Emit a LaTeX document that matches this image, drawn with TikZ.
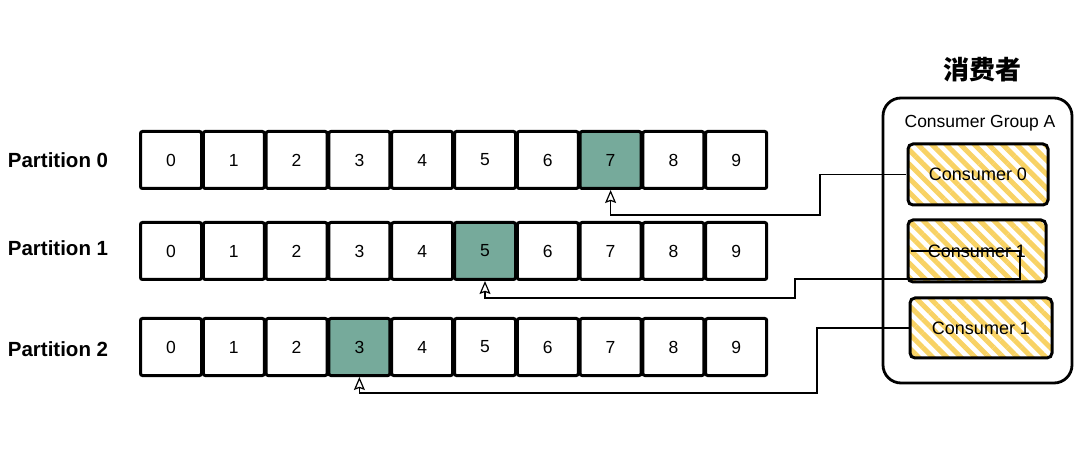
\documentclass[tikz,border=0pt]{standalone}
\usepackage{fontspec}
\setmainfont{Liberation Sans}
\newfontfamily\cjk{Noto Sans CJK SC}
\usetikzlibrary{patterns.meta,arrows.meta,calc}
\definecolor{cellgreen}{RGB}{118,170,155}
\definecolor{hatch}{RGB}{248,210,100}
\begin{document}
\begin{tikzpicture}[x=1pt,y=-1pt,
  cell/.style={draw, line width=3pt, rounded corners=2pt, minimum width=61pt, minimum height=57pt, inner sep=0pt, font=\fontsize{17.5}{21}\selectfont},
  hot/.style={fill=cellgreen},
  plabel/.style={font=\bfseries\fontsize{20.5}{24}\selectfont, inner sep=0pt},
  cons/.style={draw, line width=3pt, rounded corners=5pt, inner sep=0pt,
    pattern={Lines[angle=-45,distance=10pt,line width=5pt]}, pattern color=hatch,
    font=\fontsize{18}{21}\selectfont},
  conn/.style={draw, line width=1.2pt, -{Stealth[open,inset=2pt,length=13pt,width=11pt]}}]
\useasboundingbox (0,0) rectangle (1080,457);
% partition labels
\node[plabel] (lab0) at (58,160) {Partition 0};
\node[plabel] (lab1) at (58,248) {Partition 1};
\node[plabel] (lab2) at (58,349) {Partition 2};
% cells
\foreach \r/\y/\h in {0/160/7, 1/251/5, 2/347/3}{
  \foreach \i in {0,...,9}{
    \ifnum\i=\h
      \node[cell,hot] (p\r c\i) at ({171+62.8*\i},\y) {\i};
    \else
      \node[cell] (p\r c\i) at ({171+62.8*\i},\y) {\i};
    \fi
  }
}
% consumer group
\node[font=\cjk\bfseries\fontsize{26}{30}\selectfont, inner sep=0pt] (title) at (982,70) {消费者};
\node[draw, line width=2.8pt, rounded corners=18pt, minimum width=189pt, minimum height=285pt, inner sep=0pt] (grp) at (977.5,240.5) {};
\node[font=\fontsize{17.5}{20}\selectfont, inner sep=0pt] (gname) at (980,123) {Consumer Group A};
\node[cons, minimum width=140pt, minimum height=61pt] (cons0) at (978,174.5) {Consumer 0};
\node[cons, minimum width=138pt, minimum height=62pt] (cons1) at (977,251) {Consumer 1};
\node[cons, minimum width=142pt, minimum height=60pt] (cons2) at (981,328) {Consumer 1};
% connectors
\draw[conn] (cons0.west) -| (820,215) -| (p0c7.south);
\draw[conn] ($(cons1.west)+(4,0)$) -- (1020,251) -- (1020,279) -- (795,279) -- (795,298) -| (p1c5.south);
\draw[conn] (cons2.west) -| (817,393) -| (p2c3.south);
\end{tikzpicture}
\end{document}
